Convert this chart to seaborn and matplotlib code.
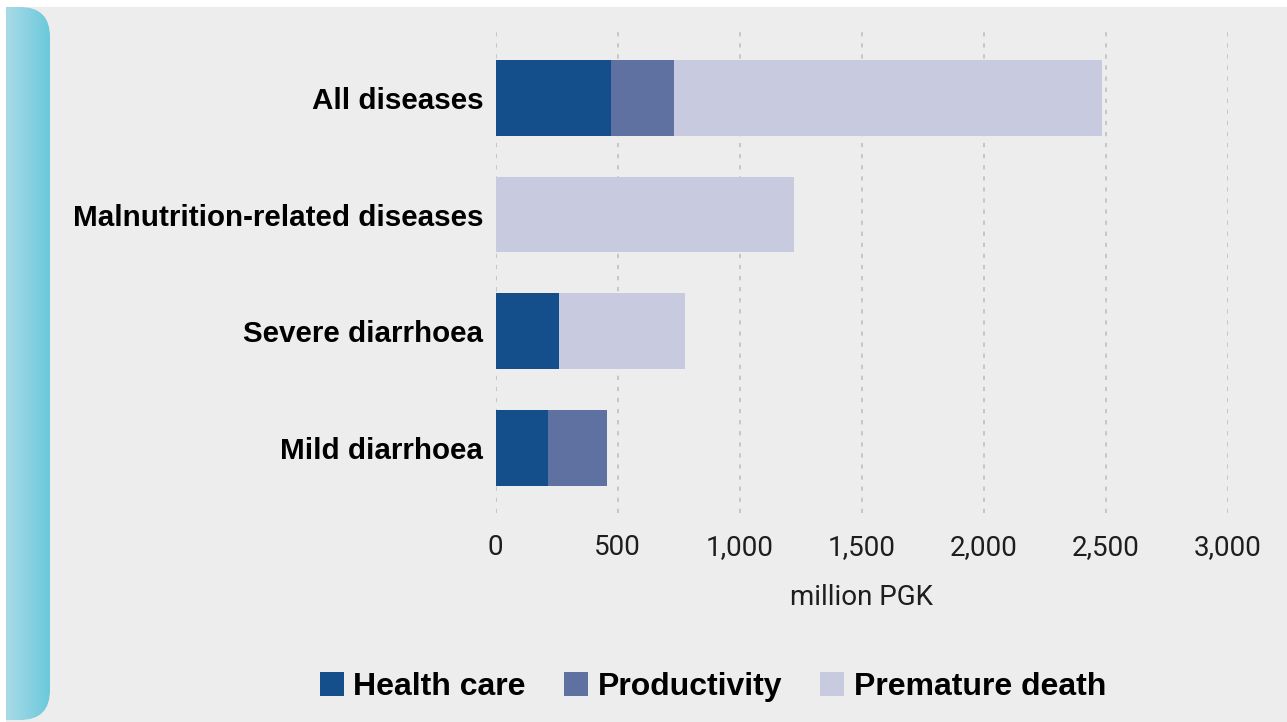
import numpy as np
import pandas as pd
import matplotlib
matplotlib.use("Agg")
import matplotlib.pyplot as plt
from matplotlib.patches import FancyBboxPatch, Rectangle, Patch
import seaborn as sns

# Economic costs by disease group (million PGK)
categories = ["All diseases", "Malnutrition-related diseases", "Severe diarrhoea", "Mild diarrhoea"]
health_care = [473, 0, 260, 214]
productivity = [258, 0, 0, 242]
premature_death = [1754, 1222, 516, 0]

series_names = ["Health care", "Productivity", "Premature death"]
series_colors = ["#154f8b", "#5f71a1", "#c8cbdf"]
x_ticks = [0, 500, 1000, 1500, 2000, 2500, 3000]

sns.set_theme(style="white")
plt.rcParams["font.family"] = ["Liberation Sans", "DejaVu Sans"]

W, H = 1287, 722
fig = plt.figure(figsize=(W / 100, H / 100), dpi=100, facecolor="white")

# Background panel with a rounded cyan side strip
bg = fig.add_axes([0, 0, 1, 1], zorder=-5)
bg.set_xlim(0, W)
bg.set_ylim(H, 0)
bg.axis("off")
bg.add_patch(Rectangle((6, 7), W - 6, H - 7, facecolor="#ededed", edgecolor="none"))
strip = FancyBboxPatch((-40, 7), 90, 713, boxstyle="round,pad=0,rounding_size=30",
                       facecolor="none", edgecolor="none")
bg.add_patch(strip)
grad = np.linspace(0, 1, 256).reshape(1, -1)
cmap = matplotlib.colors.LinearSegmentedColormap.from_list("strip", ["#a9dbe7", "#6bc9db"])
im = bg.imshow(grad, extent=[6, 50, 720, 7], cmap=cmap, aspect="auto", zorder=2)
im.set_clip_path(strip)

# Main chart
ax = fig.add_axes([495.7 / W, 1 - 513 / H, (1227.7 - 495.7) / W, (513 - 32) / H])
ax.set_facecolor("none")

df = pd.DataFrame({"category": categories, "hc": health_care,
                   "prod": productivity, "death": premature_death})
df["hc_prod"] = df["hc"] + df["prod"]
df["total"] = df["hc_prod"] + df["death"]

for col, color in zip(["total", "hc_prod", "hc"], series_colors[::-1]):
    sns.barplot(data=df, x=col, y="category", orient="h", color=color,
                saturation=1, width=0.65, errorbar=None, ax=ax, zorder=3,
                linewidth=0, edgecolor="none")

tick_font = ["Roboto", "DejaVu Sans"]
ax.set_xlim(0, 3000)
ax.set_ylim(3.56, -0.566)
ax.set_xticks(x_ticks)
ax.set_xticklabels([f"{t:,}" for t in x_ticks], fontsize=20, color="#1e1e1e",
                   family=tick_font)
ax.set_yticks(range(len(categories)))
ax.set_yticklabels(categories, fontsize=21.3, fontweight="bold", color="#000000")
ax.tick_params(axis="x", length=0, pad=15)
ax.tick_params(axis="y", length=0, pad=9)
ax.set_xlabel("million PGK", fontsize=20, color="#1e1e1e", labelpad=17,
              family=tick_font)
ax.set_ylabel("")
for s in ax.spines.values():
    s.set_visible(False)
ax.grid(axis="x", color="#c6c6c6", linestyle=(0, (2.2, 3.5)), linewidth=1.4, zorder=0)
ax.grid(axis="y", visible=False)
ax.set_axisbelow(True)

handles = [Patch(facecolor=c, edgecolor="none") for c in series_colors]
leg = fig.legend(handles, series_names, loc="center", bbox_to_anchor=(713 / W, 1 - 687 / H),
                 ncol=3, frameon=False, prop={"size": 23, "weight": "bold"},
                 handlelength=0.75, handleheight=0.75, handletextpad=0.3, columnspacing=1.2)
for t in leg.get_texts():
    t.set_color("#000000")

fig.savefig("out.png", dpi=100, facecolor="white")
